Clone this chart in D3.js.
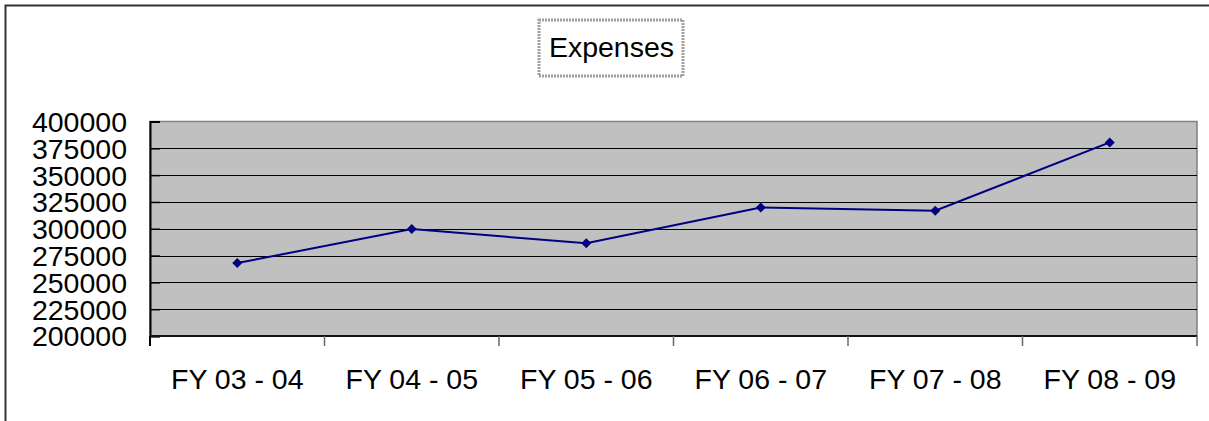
<!DOCTYPE html>
<html>
<head>
<meta charset="utf-8">
<script src="https://cdn.jsdelivr.net/npm/d3@7"></script>
<style>
html,body{margin:0;padding:0;background:#fff;}
svg{display:block;font-family:"Liberation Sans",Arial,sans-serif;}
</style>
</head>
<body>
<svg id="chart" width="1209" height="421"></svg>
<script>
const categories = ["FY 03 - 04","FY 04 - 05","FY 05 - 06","FY 06 - 07","FY 07 - 08","FY 08 - 09"];
const expenses = [268000, 299700, 286500, 319800, 316800, 380500];
const yTicks = [200000,225000,250000,275000,300000,325000,350000,375000,400000];
const title = "Expenses";

const svg = d3.select("#chart");
const W = 1209, H = 421;
const m = {left:150, right:1197, top:121.5, bottom:336};

// outer chart border (top and left visible)
svg.append("path")
  .attr("d", `M5.5,${H} L5.5,5.5 L${W},5.5`)
  .attr("fill","none").attr("stroke","#333").attr("stroke-width",2);

const x = d3.scaleBand().domain(categories).range([m.left, m.right]).padding(0);
const y = d3.scaleLinear().domain([200000,400000]).range([m.bottom, m.top]);

// plot area
svg.append("rect")
  .attr("x", m.left).attr("y", m.top)
  .attr("width", m.right-m.left).attr("height", m.bottom-m.top)
  .attr("fill","#c0c0c0").attr("stroke","#808080").attr("stroke-width",1.5);

// gridlines
svg.append("g").selectAll("line").data(yTicks.slice(1,-1)).join("line")
  .attr("x1", m.left).attr("x2", m.right)
  .attr("y1", d=>Math.round(y(d))+0.5).attr("y2", d=>Math.round(y(d))+0.5)
  .attr("stroke","#000").attr("stroke-width",1);

// y axis
const yAxis = svg.append("g").attr("transform",`translate(${m.left},0)`)
  .call(d3.axisLeft(y).tickValues(yTicks).tickSize(-10).tickPadding(23).tickFormat(d3.format("d")));
yAxis.select(".domain").attr("stroke","#000").attr("stroke-width",2);
yAxis.selectAll(".tick line").attr("stroke","#000").attr("stroke-width",1.5);
yAxis.selectAll(".tick text").attr("font-size","28.5px").attr("fill","#000")
  .attr("font-family",'"Liberation Sans",Arial,sans-serif').attr("dy","0.35em");

// x axis
const xTickPos = categories.map(c=>x(c)).concat([m.right]);
const xAxis = svg.append("g");
xAxis.append("line").attr("x1",m.left).attr("x2",m.right)
  .attr("y1",m.bottom).attr("y2",m.bottom).attr("stroke","#111").attr("stroke-width",2);
xAxis.selectAll("line.tk").data(xTickPos).join("line").attr("class","tk")
  .attr("x1",d=>d).attr("x2",d=>d).attr("y1",m.bottom).attr("y2",m.bottom+10)
  .attr("stroke",(d,i)=>i===0?"#000":"#666").attr("stroke-width",(d,i)=>i===0?2:1.5);
xAxis.selectAll("text").data(categories).join("text")
  .attr("x",d=>x(d)+x.bandwidth()/2).attr("y",388.5)
  .attr("text-anchor","middle").attr("font-size","28.5px").attr("fill","#000")
  .text(d=>d);

// line
const pts = categories.map((c,i)=>({c, v:expenses[i]}));
svg.append("path").datum(pts)
  .attr("d", d3.line().x(d=>x(d.c)+x.bandwidth()/2).y(d=>y(d.v)))
  .attr("fill","none").attr("stroke","#000080").attr("stroke-width",2);

svg.append("g").selectAll("path").data(pts).join("path")
  .attr("transform", d=>`translate(${x(d.c)+x.bandwidth()/2},${y(d.v)})`)
  .attr("d","M0,-5 L5,0 L0,5 L-5,0 Z")
  .attr("fill","#000080");

// title box
svg.append("rect").attr("x",539).attr("y",20).attr("width",144).attr("height",56)
  .attr("fill","#fff").attr("stroke","#a0a0a0").attr("stroke-width",3).attr("stroke-dasharray","2,1");
svg.append("text").attr("x",611.5).attr("y",56.5).attr("text-anchor","middle")
  .attr("font-size","28.5px").attr("fill","#000").text(title);
</script>
</body>
</html>
